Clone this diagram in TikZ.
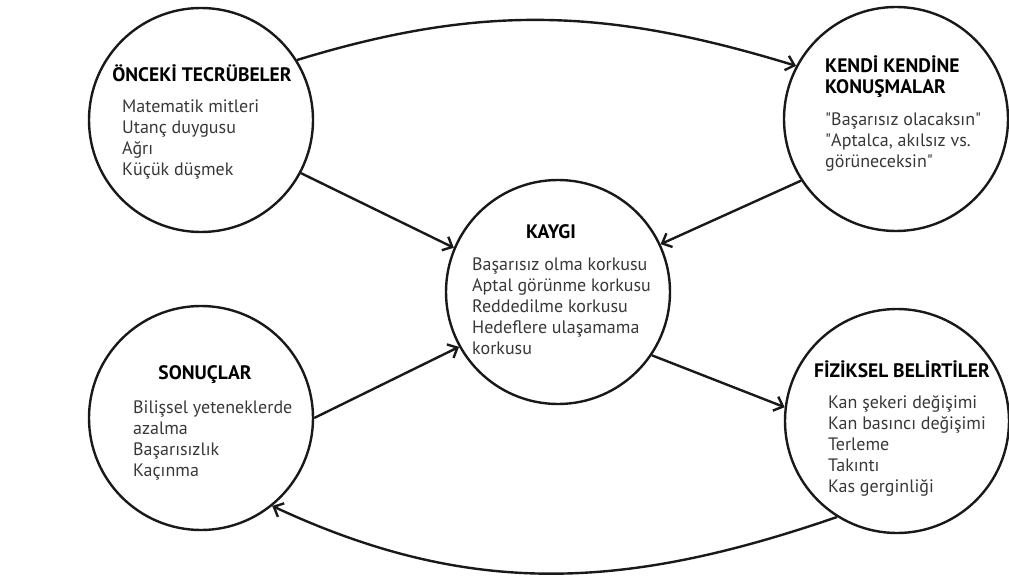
\documentclass[tikz,border=0pt]{standalone}
\usepackage{fontspec}
\setmainfont{PT Sans}
\usetikzlibrary{arrows.meta}

\tikzset{
	cember/.style={circle, draw=black!90, line width=2.4pt, minimum size=224pt, inner sep=0pt},
	baslik/.style={font=\bfseries\fontsize{19.5}{21}\selectfont, text=black, inner sep=0pt, align=left},
	madde/.style={font=\fontsize{18}{21}\selectfont, text=black!78, inner sep=0pt, align=left, anchor=base west},
	ok/.style={line width=2.4pt, draw=black!90, -{Straight Barb[length=8pt,width=15pt]}}
}

\begin{document}
\begin{tikzpicture}[x=1pt,y=1pt]
\useasboundingbox (0,0) rectangle (1009,582);

\node[cember] (oncek) at (201,462) {};
\node[cember] (kendi) at (896,463) {};
\node[cember] (kaygi) at (558,290) {};
\node[cember] (sonuc) at (201,164) {};
\node[cember] (fizik) at (897,161) {};

\node[baslik, anchor=base] (oncekB) at (202,500) {ÖNCEKİ TECRÜBELER};
\node[madde] (oncekM) at (122,406)
	{Matematik mitleri\\Utanç duygusu\\Ağrı\\Küçük düşmek};

\node[baslik, anchor=base west] (kendiB) at (825,488) {KENDİ KENDİNE\\KONUŞMALAR};
\node[madde] (kendiM) at (825,414)
	{\textquotedbl Başarısız olacaksın\textquotedbl\\\textquotedbl Aptalca, akılsız vs.\\görüneceksin\textquotedbl};

\node[baslik, anchor=base] (kaygiB) at (551,343) {KAYGI};
\node[madde] (kaygiM) at (472,228)
	{Başarısız olma korkusu\\Aptal görünme korkusu\\Reddedilme korkusu\\Hedeflere ulaşamama\\korkusu};

\node[baslik, anchor=base] (sonucB) at (205,203) {SONUÇLAR};
\node[madde] (sonucM) at (133,106)
	{Bilişsel yeteneklerde\\azalma\\Başarısızlık\\Kaçınma};

\node[baslik, anchor=base] (fizikB) at (902,205) {FİZİKSEL BELİRTİLER};
\node[madde] (fizikM) at (828,90)
	{Kan şekeri değişimi\\Kan basıncı değişimi\\Terleme\\Takıntı\\Kas gerginliği};

\draw[ok] (oncek.32) to[out=17, in=163] (kendi.152);
\draw[ok] (oncek.-28) -- (kaygi.157);
\draw[ok] (kendi.213) -- (kaygi.25);
\draw[ok] (sonuc.0) -- (kaygi.209);
\draw[ok] (kaygi.-34) -- (fizik.173);
\draw[ok] (fizik.238) to[out=199, in=-25] (sonuc.309);
\end{tikzpicture}
\end{document}
